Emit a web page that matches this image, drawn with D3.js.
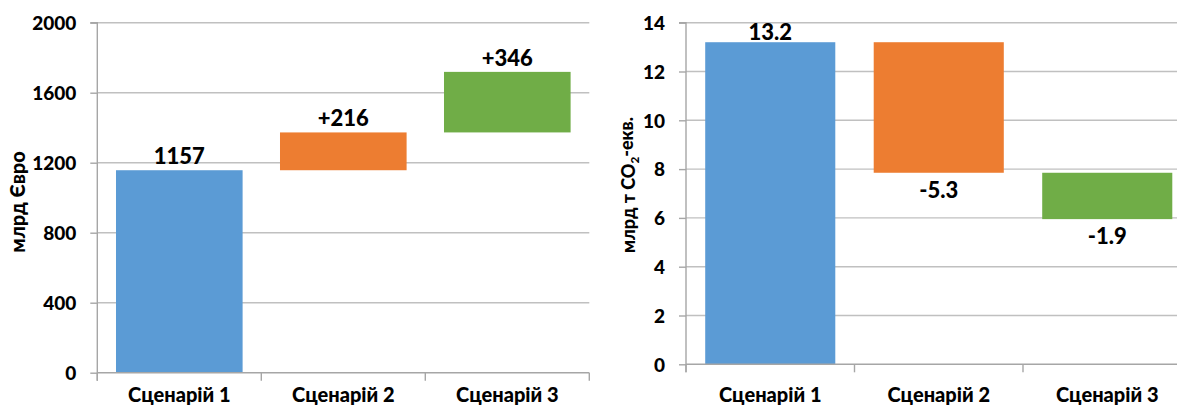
<!DOCTYPE html>
<html>
<head>
<meta charset="utf-8">
<script src="https://cdn.jsdelivr.net/npm/d3@7"></script>
<style>
  html, body { margin: 0; padding: 0; background: #fff; }
  svg { display: block; }
  text { font-family: Lato, "Open Sans", "DejaVu Sans", sans-serif; font-weight: 900; fill: #000; }
</style>
</head>
<body>
<svg id="chart" width="1177" height="405"></svg>
<script>
// ---- data ----
const categories = ["Сценарій 1", "Сценарій 2", "Сценарій 3"];
const costValues = [1157, 216, 346];
const costLabels = ["1157", "+216", "+346"];
const costTicks = [0, 400, 800, 1200, 1600, 2000];
const emissionValues = [13.2, -5.35, -1.9];
const emissionLabels = ["13.2", "-5.3", "-1.9"];
const emissionTicks = [0, 2, 4, 6, 8, 10, 12, 14];
const barColors = ["#5b9bd5", "#ed7d31", "#70ad47"];

const svg = d3.select("#chart");

function waterfall(opts) {
  const { values, labels, ticks, yMax, left, top, bottom, step, title, catOffset, aboveOff, belowOff } = opts;
  const g = svg.append("g");
  const width = step * categories.length;
  const x = d3.scaleBand().domain(categories).range([left, left + width])
    .paddingInner(0.228).paddingOuter(0.114);
  const y = d3.scaleLinear().domain([0, yMax]).range([bottom, top]);

  // gridlines
  g.selectAll("line.grid").data(ticks.filter(t => t !== 0)).join("line")
    .attr("x1", left).attr("x2", left + width)
    .attr("y1", d => y(d)).attr("y2", d => y(d))
    .attr("stroke", "#c0c0c0").attr("stroke-width", 1.4);

  // waterfall segments
  let cum = 0;
  const segs = values.map((v, i) => {
    const start = i === 0 ? 0 : cum;
    cum = i === 0 ? v : cum + v;
    return { cat: categories[i], start, end: cum, v, label: labels[i], color: barColors[i] };
  });

  g.selectAll("rect.bar").data(segs).join("rect")
    .attr("x", d => x(d.cat))
    .attr("width", x.bandwidth())
    .attr("y", d => y(Math.max(d.start, d.end)))
    .attr("height", d => Math.abs(y(d.start) - y(d.end)))
    .attr("fill", d => d.color);

  // x axis line (baseline) + ticks at band boundaries
  g.append("line").attr("x1", left).attr("x2", left + width)
    .attr("y1", y(0)).attr("y2", y(0)).attr("stroke", "#a6a6a6").attr("stroke-width", 1.4);
  const bounds = d3.range(categories.length + 1).map(i => left + i * x.step());
  g.selectAll("line.xt").data(bounds).join("line")
    .attr("x1", d => d).attr("x2", d => d)
    .attr("y1", y(0)).attr("y2", y(0) + 8)
    .attr("stroke", "#a6a6a6").attr("stroke-width", 1.4);

  // y axis
  const ya = g.append("g").attr("transform", `translate(${left},0)`)
    .call(d3.axisLeft(y).tickValues(ticks).tickSize(7).tickPadding(14).tickFormat(d3.format("d")));
  ya.attr("font-family", null).attr("font-size", null);
  ya.select(".domain").attr("stroke", "#a6a6a6").attr("stroke-width", 1.4)
    .attr("d", `M-7,${y(yMax)}H0V${y(0) + 8}`);
  ya.selectAll(".tick line").attr("stroke", "#a6a6a6").attr("stroke-width", 1.4);
  ya.selectAll(".tick text").attr("font-size", 19).attr("fill", "#000")
    .attr("dy", "0.36em");

  // category labels
  g.selectAll("text.cat").data(categories).join("text")
    .attr("x", d => x(d) + x.bandwidth() / 2)
    .attr("y", y(0) + catOffset)
    .attr("text-anchor", "middle").attr("font-size", 20)
    .text(d => d);

  // value labels
  g.selectAll("text.val").data(segs).join("text")
    .attr("x", d => x(d.cat) + x.bandwidth() / 2)
    .attr("y", d => d.v >= 0 ? y(d.end) - aboveOff : y(d.end) + belowOff)
    .attr("text-anchor", "middle").attr("font-size", 22)
    .text(d => d.label);

  // axis title
  const t = g.append("text")
    .attr("transform", `translate(${title.x},${title.y}) rotate(-90)`)
    .attr("text-anchor", "middle").attr("font-size", title.size);
  title.parts.forEach(p => {
    const ts = t.append("tspan").text(p.text);
    if (p.sub) ts.attr("font-size", title.size * 0.65).attr("dy", "0.3em");
    if (p.after) ts.attr("dy", "-0.3em");
  });
}

waterfall({
  values: costValues, labels: costLabels, ticks: costTicks, yMax: 2000,
  left: 97.3, top: 22.7, bottom: 372.7, step: 164,
  catOffset: 29.5, aboveOff: 6, belowOff: 25,
  title: { x: 25, y: 202, size: 20, parts: [{ text: "млрд Євро" }] }
});

waterfall({
  values: emissionValues, labels: emissionLabels, ticks: emissionTicks, yMax: 14,
  left: 686, top: 22.7, bottom: 364.3, step: 168.5,
  catOffset: 37.4, aboveOff: 2, belowOff: 25,
  title: { x: 635, y: 185, size: 18, parts: [{ text: "млрд т CO" }, { text: "2", sub: true }, { text: "-екв.", after: true }] }
});
</script>
</body>
</html>
